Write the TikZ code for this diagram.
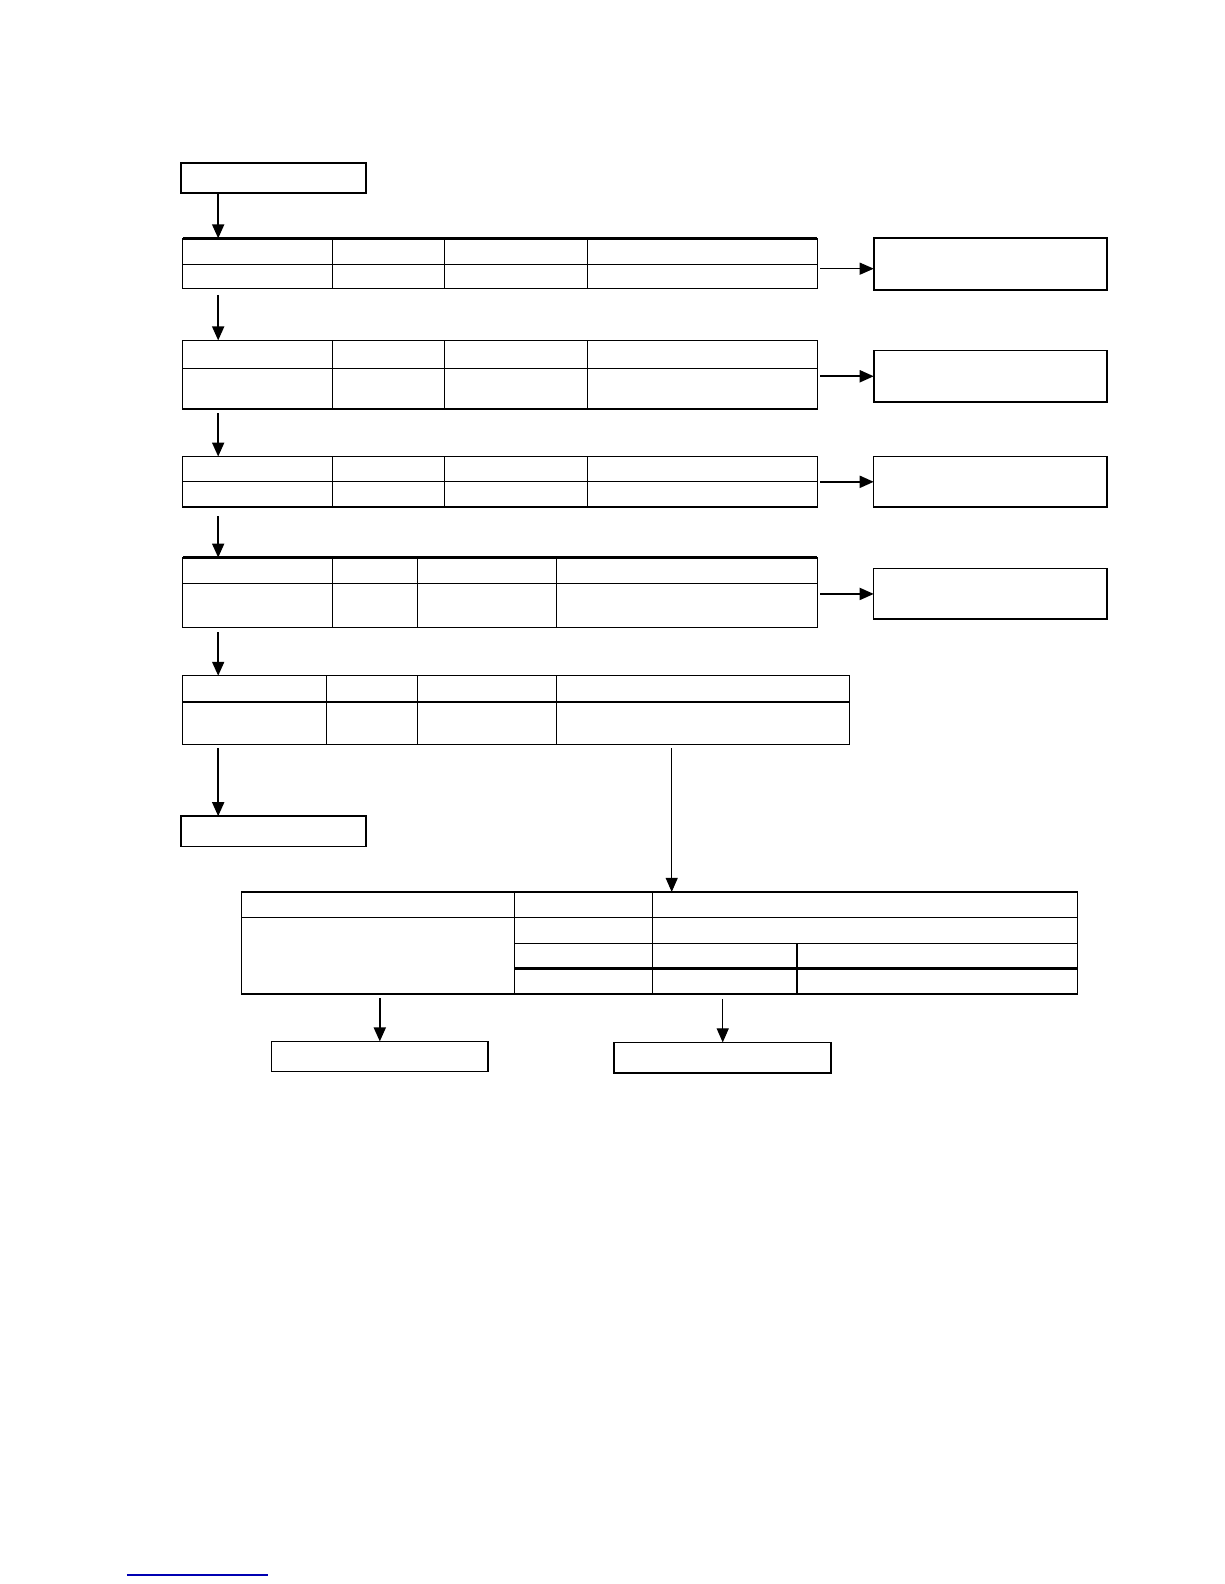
\documentclass[tikz,border=0pt]{standalone}
\usetikzlibrary{arrows.meta,fit}
\begin{document}
\begin{tikzpicture}[x=1.0101pt,y=-1.0101pt]

    \tikzset{
      box/.style={
        draw,
        line width=1.8pt,
        inner sep=0pt,
        outer sep=0pt,
      },
      tab/.style={box, line width=1.2pt},
      cell/.style={line width=1.1pt},
      rule/.style={line width=2.6pt},
      arr/.style={line width=1.8pt, -{Triangle[length=14pt,width=12pt]}},
      arrthin/.style={line width=1pt, -{Triangle[length=14pt,width=12pt]}},
    }
    \useasboundingbox (0,0) rectangle (1211.76,1568.16);
    \coordinate (lane) at (216,0);

    % boxes
    \node[box, fit={(179,161) (362,191)}] (start) {};
    \node[box, fit={(179,808) (362,838)}] (finish) {};
    \node[box, fit={(865,236) (1096,287)}] (r1) {};
    \node[box, fit={(865,347) (1096,398)}] (r2) {};
    \node[box, line width=1.4pt, fit={(865,452) (1096,502)}] (r3) {};
    \node[box, line width=1.4pt, fit={(865,563) (1096,613)}] (r4) {};
    \node[box, line width=1.4pt, fit={(269,1031) (483,1061)}] (b1) {};
    \node[box, fit={(608,1032) (823,1062)}] (b2) {};

    % tables
    \node[tab, fit={(181,236) (809,286)}] (t1) {};
    \draw[rule] (t1.north west) -- (t1.north east);
    \draw[cell] (181,262) -- (809,262);
    \foreach \x in {329,440,582} \draw[cell] (\x,236) -- (\x,286);

    \node[tab, fit={(181,337) (809,405)}] (t2) {};
    \draw[cell] (181,365) -- (809,365);
    \foreach \x in {329,440,582} \draw[cell] (\x,337) -- (\x,405);

    \node[tab, fit={(181,452) (809,502)}] (t3) {};
    \draw[rule] (t3.south west) -- (t3.south east);
    \draw[cell] (181,477) -- (809,477);
    \foreach \x in {329,440,582} \draw[cell] (\x,452) -- (\x,502);

    \node[tab, fit={(181,552) (809,621)}] (t4) {};
    \draw[rule] (t4.north west) -- (t4.north east);
    \draw[cell] (181,578) -- (809,578);
    \foreach \x in {329,413,551} \draw[cell] (\x,552) -- (\x,621);

    \node[tab, fit={(181,669) (841,737)}] (t5) {};
    \draw[cell] (181,695) -- (841,695);
    \foreach \x in {323,413,551} \draw[cell] (\x,669) -- (\x,737);

    \node[tab, fit={(239,883) (1067,984)}] (t6) {};
    \draw[rule] (t6.north west) -- (t6.north east);
    \draw[cell] (239,908) -- (1067,908);
    \draw[cell] (509,934) -- (1067,934);
    \draw[rule] (509,959) -- (1067,959);
    \draw[cell] (509,883) -- (509,984);
    \draw[line width=0.8pt] (646,883) -- (646,984);
    \draw[cell] (789,934) -- (789,984);

    % down the left lane
    \draw[arr] (start.south -| lane) -- (t1.north -| lane);
    \draw[arr] ([yshift=-6pt]t1.south -| lane) -- (t2.north -| lane);
    \draw[arr] ([yshift=-4pt]t2.south -| lane) -- (t3.north -| lane);
    \draw[arr] ([yshift=-9pt]t3.south -| lane) -- (t4.north -| lane);
    \draw[arr] ([yshift=-5pt]t4.south -| lane) -- (t5.north -| lane);
    \draw[arr] ([yshift=-4pt]t5.south -| lane) -- (finish.north -| lane);

    % out to the right
    \draw[arrthin] ([xshift=3pt]t1.east |- 0,266) -- (r1.west |- 0,266);
    \draw[arr] ([xshift=3pt]t2.east |- r2.west) -- (r2.west);
    \draw[arr] ([xshift=3pt]t3.east |- r3.west) -- (r3.west);
    \draw[arr] ([xshift=3pt]t4.east |- r4.west) -- (r4.west);

    % lower part
    \coordinate (drop) at (665,0);
    \draw[arrthin] ([yshift=-4pt]t5.south -| drop) -- (t6.north -| drop);
    \draw[arr] ([yshift=-4pt]t6.south -| b1.north) -- (b1.north);
    \draw[arrthin] ([yshift=-5pt]t6.south -| b2.north) -- (b2.north);

    \draw[blue!70!black, line width=1.3pt] (125.7,1559.3) -- (265.3,1559.3);

\end{tikzpicture}
\end{document}
